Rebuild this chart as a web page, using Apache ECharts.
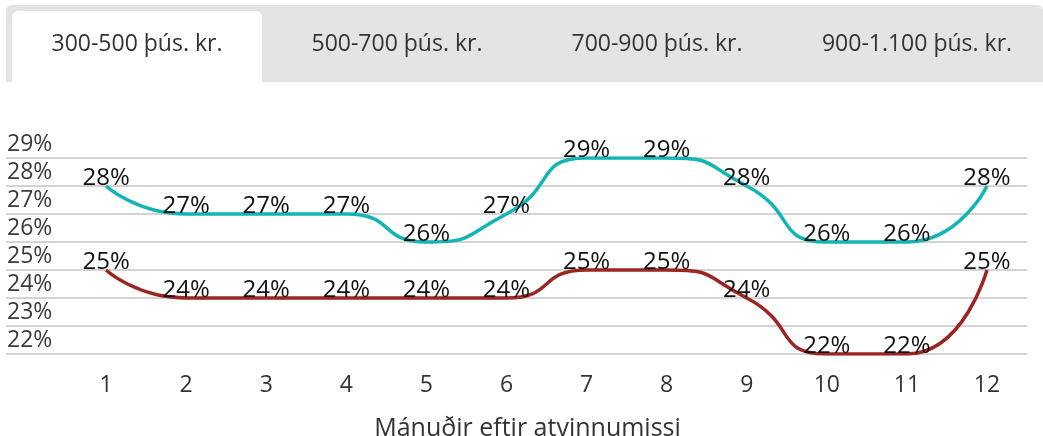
<!DOCTYPE html>
<html>
<head>
<meta charset="utf-8">
<script src="https://cdn.jsdelivr.net/npm/echarts@6/dist/echarts.min.js"></script>
<style>
  html, body { margin: 0; padding: 0; background: #fff }
  #chart { width: 1043px; height: 436px }
</style>
</head>
<body>
<div id="chart"></div>
<script>
// gögn lesin af myndinni
const tabLabels = ['300-500 þús. kr.', '500-700 þús. kr.', '700-900 þús. kr.', '900-1.100 þús. kr.']
const months = [1, 2, 3, 4, 5, 6, 7, 8, 9, 10, 11, 12]
const upperSeries = [28, 27, 27, 27, 26, 27, 29, 29, 28, 26, 26, 28]
const lowerSeries = [25, 24, 24, 24, 24, 24, 25, 25, 24, 22, 22, 25]
const yTicks = [22, 23, 24, 25, 26, 27, 28, 29]
const xTitle = 'Mánuðir eftir atvinnumissi'

const FONT = 'Open Sans'
const TEAL = '#12b5b5'
const RED = '#9b2522'

const chart = echarts.init(document.getElementById('chart'))

// flipar efst
const tabW = 260
const tabs = [
  { type: 'rect', shape: { x: 6, y: 5, width: 1037, height: 77, r: [6, 6, 0, 0] }, style: { fill: '#e4e4e4' } },
  { type: 'rect', shape: { x: 12, y: 11, width: 250, height: 71, r: [6, 6, 0, 0] }, style: { fill: '#fff' } }
]
tabLabels.forEach((t, i) => {
  tabs.push({
    type: 'text',
    x: 137 + i * tabW,
    y: 44,
    style: { text: t, fill: '#333', font: '23px "' + FONT + '"', align: 'center', verticalAlign: 'middle' }
  })
})

function lineSeries(name, values, color) {
  return {
    name,
    type: 'line',
    data: months.map((m, i) => [m, values[i]]),
    smooth: 0.6,
    symbol: 'circle',
    symbolSize: 0,
    showSymbol: true,
    itemStyle: { color },
    lineStyle: { color, width: 3.5 },
    label: {
      show: true,
      position: 'top',
      distance: -4,
      formatter: p => p.value[1] + '%',
      fontFamily: FONT,
      fontSize: 24,
      color: '#111'
    }
  }
}

chart.setOption({
  animation: false,
  textStyle: { fontFamily: FONT },
  graphic: tabs,
  grid: { left: 6, right: 16, top: 158, bottom: 82, outerBoundsMode: 'none', containLabel: false },
  xAxis: {
    type: 'value',
    min: -0.25,
    max: 12.5,
    axisLine: { show: false },
    axisTick: { show: false },
    splitLine: { show: false },
    axisLabel: {
      customValues: months,
      fontSize: 23,
      color: '#333',
      margin: 20
    },
    name: xTitle,
    nameLocation: 'middle',
    nameGap: 62,
    nameTextStyle: { fontSize: 25, color: '#333', padding: [0, 0, 0, 22] }
  },
  yAxis: {
    type: 'value',
    min: yTicks[0],
    max: yTicks[yTicks.length - 1],
    interval: 1,
    axisLine: { show: false },
    axisTick: { show: false },
    splitLine: { lineStyle: { color: '#d3d3d3', width: 2 } },
    axisLabel: {
      inside: true,
      margin: 1,
      align: 'left',
      verticalAlign: 'bottom',
      padding: [0, 0, 2, 0],
      fontSize: 23,
      color: '#3a3a3a',
      formatter: v => v + '%'
    }
  },
  series: [
    lineSeries('Efri', upperSeries, TEAL),
    lineSeries('Neðri', lowerSeries, RED)
  ]
})
</script>
</body>
</html>
